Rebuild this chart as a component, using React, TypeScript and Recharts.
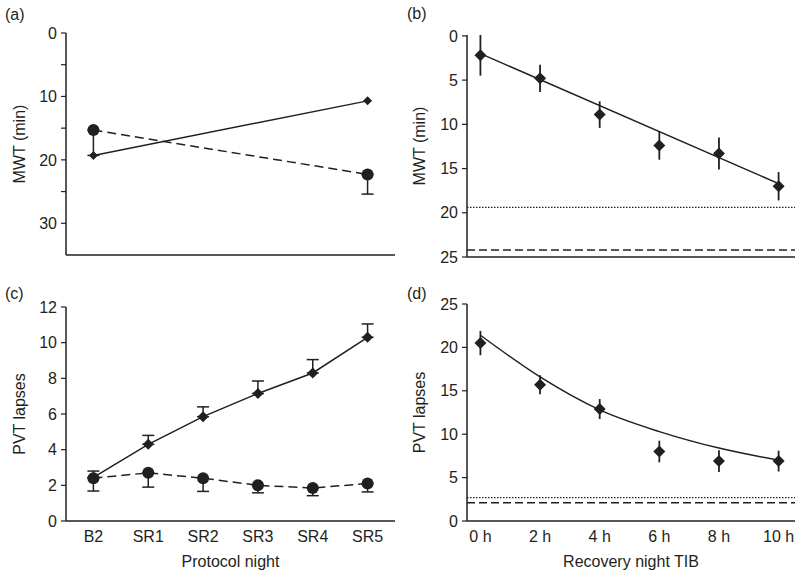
import React from 'react';
import { LineChart, Line, XAxis, YAxis, ErrorBar, ReferenceLine } from 'recharts';

// protocol nights (panels a, c)
const nights = ['B2', 'SR1', 'SR2', 'SR3', 'SR4', 'SR5'];
const nightIdx = [0, 1, 2, 3, 4, 5];

// (a) MWT, only B2 and SR5 measured
const mwtIdx = [0, 5];
const mwtRestricted = [19.3, 10.7];
const mwtControl = [15.3, 22.3];
const mwtControlErr = [[0, 4.0], [0, 3.1]];

// (c) PVT lapses over protocol nights
const pvtRestricted = [2.45, 4.3, 5.85, 7.15, 8.3, 10.3];
const pvtRestrictedErr = [0.35, 0.5, 0.55, 0.7, 0.75, 0.75];
const pvtControl = [2.4, 2.7, 2.4, 2.0, 1.85, 2.1];
const pvtControlErr = [0.72, 0.8, 0.74, 0.42, 0.43, 0.47];

// recovery night time in bed (panels b, d)
const tibHours = [0, 2, 4, 6, 8, 10];

// (b) MWT after recovery
const recMwt = [2.2, 4.8, 8.9, 12.4, 13.3, 17.0];
const recMwtErr = [2.3, 1.55, 1.5, 1.6, 1.8, 1.6];
const mwtFitHours = [0, 10];
const mwtFit = [2.0, 16.7];
const mwtDotted = 19.4;
const mwtDashed = 24.2;

// (d) PVT lapses after recovery
const recPvt = [20.5, 15.7, 12.9, 8.0, 6.9, 6.9];
const recPvtErr = [1.4, 1.1, 1.15, 1.25, 1.25, 1.2];
const pvtFit = [21.4, 16.6, 12.8, 10.3, 8.4, 7.0];
const pvtDotted = 2.7;
const pvtDashed = 2.1;

const INK = '#231f20';
const FONT = '"Liberation Sans", Arial, Helvetica, sans-serif';
const TICK_FS = 16;
const tickStyle = { fill: INK, fontSize: TICK_FS };

const dataA_r = mwtIdx.map((x, i) => ({ x, v: mwtRestricted[i] }));
const dataA_c = mwtIdx.map((x, i) => ({ x, v: mwtControl[i], err: mwtControlErr[i] }));
const dataC_r = nightIdx.map((x, i) => ({ x, v: pvtRestricted[i], err: [0, pvtRestrictedErr[i]] }));
const dataC_c = nightIdx.map((x, i) => ({ x, v: pvtControl[i], err: [pvtControlErr[i], 0] }));
const dataB = tibHours.map((x, i) => ({ x, v: recMwt[i], err: recMwtErr[i] }));
const dataB_fit = mwtFitHours.map((x, i) => ({ x, v: mwtFit[i] }));
const dataD = tibHours.map((x, i) => ({ x, v: recPvt[i], err: recPvtErr[i] }));
const dataD_fit = tibHours.map((x, i) => ({ x, v: pvtFit[i] }));

const diamond = (s: number) => (props: any) => {
  const { cx, cy, index } = props;
  if (cx == null || cy == null) return <g key={`dm-${index}`} />;
  return (
    <polygon
      key={`dm-${index}`}
      points={`${cx},${cy - s} ${cx + s},${cy} ${cx},${cy + s} ${cx - s},${cy}`}
      fill={INK}
    />
  );
};

const circle = (r: number) => (props: any) => {
  const { cx, cy, index } = props;
  if (cx == null || cy == null) return <g key={`ci-${index}`} />;
  return <circle key={`ci-${index}`} cx={cx} cy={cy} r={r} fill={INK} />;
};

const yTitle = (value: string) => ({
  value,
  angle: -90,
  position: 'insideLeft' as const,
  offset: 19,
  style: { textAnchor: 'middle', fill: INK, fontSize: 16 },
});

const xTitle = (value: string) => ({
  value,
  position: 'insideBottom' as const,
  offset: 4,
  style: { fill: INK, fontSize: 16 },
});

const PanelTag = ({ left, top, text }: { left: number; top: number; text: string }) => (
  <div style={{ position: 'absolute', left, top, fontSize: 16, lineHeight: '15px', color: INK }}>{text}</div>
);

export default function App() {
  return (
    <div style={{ position: 'absolute', left: 0, top: 0, width: 800, height: 577, background: '#fff', fontFamily: FONT }}>
      {/* (a) */}
      <div style={{ position: 'absolute', left: 0, top: 0 }}>
        <LineChart width={400} height={290} margin={{ top: 33, right: 5, bottom: 5, left: 0 }}>
          <XAxis
            type="number"
            dataKey="x"
            domain={[-0.5, 5.5]}
            height={30}
            tick={false}
            tickLine={false}
            axisLine={{ stroke: INK, strokeWidth: 1.5 }}
            allowDuplicatedCategory={false}
          />
          <YAxis
            type="number"
            reversed
            domain={[0, 35]}
            ticks={[0, 5, 10, 15, 20, 25, 30]}
            tickFormatter={(v) => (v % 10 === 0 ? String(v) : '')}
            width={66}
            tickSize={5}
            tickMargin={4}
            fontSize={TICK_FS}
            tick={tickStyle}
            tickLine={{ stroke: INK, strokeWidth: 1.2 }}
            axisLine={{ stroke: INK, strokeWidth: 1.5 }}
            label={yTitle('MWT (min)')}
          />
          <Line
            data={dataA_c}
            dataKey="v"
            stroke={INK}
            strokeWidth={1.5}
            strokeDasharray="9 5"
            dot={circle(6)}
            activeDot={false}
            isAnimationActive={false}
          >
            <ErrorBar dataKey="err" direction="y" width={6} stroke={INK} strokeWidth={1.5} />
          </Line>
          <Line
            data={dataA_r}
            dataKey="v"
            stroke={INK}
            strokeWidth={1.5}
            dot={diamond(4.5)}
            activeDot={false}
            isAnimationActive={false}
          />
        </LineChart>
      </div>

      {/* (b) */}
      <div style={{ position: 'absolute', left: 400, top: 0 }}>
        <LineChart width={400} height={290} margin={{ top: 35, right: 5, bottom: 3, left: 0 }}>
          <XAxis
            type="number"
            dataKey="x"
            domain={[-0.45, 10.55]}
            height={30}
            tick={false}
            tickLine={false}
            axisLine={{ stroke: INK, strokeWidth: 1.5 }}
            allowDuplicatedCategory={false}
          />
          <YAxis
            type="number"
            reversed
            domain={[0, 25]}
            ticks={[0, 5, 10, 15, 20, 25]}
            width={67}
            tickSize={5}
            tickMargin={4}
            fontSize={TICK_FS}
            tick={tickStyle}
            tickLine={{ stroke: INK, strokeWidth: 1.2 }}
            axisLine={{ stroke: INK, strokeWidth: 1.5 }}
            label={yTitle('MWT (min)')}
          />
          <ReferenceLine y={mwtDotted} stroke={INK} strokeWidth={1.2} strokeDasharray="1.5 1.5" />
          <ReferenceLine y={mwtDashed} stroke={INK} strokeWidth={1.5} strokeDasharray="8 4" />
          <Line
            data={dataB_fit}
            dataKey="v"
            stroke={INK}
            strokeWidth={1.5}
            dot={false}
            activeDot={false}
            isAnimationActive={false}
          />
          <Line
            data={dataB}
            dataKey="v"
            stroke="none"
            dot={diamond(6)}
            activeDot={false}
            isAnimationActive={false}
          >
            <ErrorBar dataKey="err" direction="y" width={0} stroke={INK} strokeWidth={1.8} />
          </Line>
        </LineChart>
      </div>

      {/* (c) */}
      <div style={{ position: 'absolute', left: 0, top: 290 }}>
        <LineChart width={400} height={287} margin={{ top: 17, right: 5, bottom: 6, left: 0 }}>
          <XAxis
            type="number"
            dataKey="x"
            domain={[-0.5, 5.5]}
            ticks={nightIdx}
            tickFormatter={(i) => nights[i] ?? ''}
            height={50}
            tickSize={5}
            tickMargin={5}
            fontSize={TICK_FS}
            tick={tickStyle}
            tickLine={false}
            axisLine={{ stroke: INK, strokeWidth: 1.5 }}
            label={xTitle('Protocol night')}
            allowDuplicatedCategory={false}
          />
          <YAxis
            type="number"
            domain={[0, 12]}
            ticks={[0, 2, 4, 6, 8, 10, 12]}
            width={66}
            tickSize={5}
            tickMargin={4}
            fontSize={TICK_FS}
            tick={tickStyle}
            tickLine={{ stroke: INK, strokeWidth: 1.2 }}
            axisLine={{ stroke: INK, strokeWidth: 1.5 }}
            label={yTitle('PVT lapses')}
          />
          <Line
            data={dataC_r}
            dataKey="v"
            stroke={INK}
            strokeWidth={1.5}
            dot={diamond(5.5)}
            activeDot={false}
            isAnimationActive={false}
          >
            <ErrorBar dataKey="err" direction="y" width={6} stroke={INK} strokeWidth={1.5} />
          </Line>
          <Line
            data={dataC_c}
            dataKey="v"
            stroke={INK}
            strokeWidth={1.5}
            strokeDasharray="9 5"
            dot={circle(6)}
            activeDot={false}
            isAnimationActive={false}
          >
            <ErrorBar dataKey="err" direction="y" width={6} stroke={INK} strokeWidth={1.5} />
          </Line>
        </LineChart>
      </div>

      {/* (d) */}
      <div style={{ position: 'absolute', left: 400, top: 290 }}>
        <LineChart width={400} height={287} margin={{ top: 14, right: 5, bottom: 6, left: 0 }}>
          <XAxis
            type="number"
            dataKey="x"
            domain={[-0.45, 10.55]}
            ticks={tibHours}
            tickFormatter={(h) => `${h} h`}
            height={50}
            tickSize={5}
            tickMargin={5}
            fontSize={TICK_FS}
            tick={tickStyle}
            tickLine={false}
            axisLine={{ stroke: INK, strokeWidth: 1.5 }}
            label={xTitle('Recovery night TIB')}
            allowDuplicatedCategory={false}
          />
          <YAxis
            type="number"
            domain={[0, 25]}
            ticks={[0, 5, 10, 15, 20, 25]}
            width={67}
            tickSize={5}
            tickMargin={4}
            fontSize={TICK_FS}
            tick={tickStyle}
            tickLine={{ stroke: INK, strokeWidth: 1.2 }}
            axisLine={{ stroke: INK, strokeWidth: 1.5 }}
            label={yTitle('PVT lapses')}
          />
          <ReferenceLine y={pvtDotted} stroke={INK} strokeWidth={1.2} strokeDasharray="1.5 1.5" />
          <ReferenceLine y={pvtDashed} stroke={INK} strokeWidth={1.5} strokeDasharray="8 4" />
          <Line
            data={dataD_fit}
            dataKey="v"
            type="monotone"
            stroke={INK}
            strokeWidth={1.5}
            dot={false}
            activeDot={false}
            isAnimationActive={false}
          />
          <Line
            data={dataD}
            dataKey="v"
            stroke="none"
            dot={diamond(6)}
            activeDot={false}
            isAnimationActive={false}
          >
            <ErrorBar dataKey="err" direction="y" width={0} stroke={INK} strokeWidth={1.8} />
          </Line>
        </LineChart>
      </div>

      <PanelTag left={5} top={7} text="(a)" />
      <PanelTag left={407} top={6} text="(b)" />
      <PanelTag left={5} top={286} text="(c)" />
      <PanelTag left={407} top={286} text="(d)" />
    </div>
  );
}
